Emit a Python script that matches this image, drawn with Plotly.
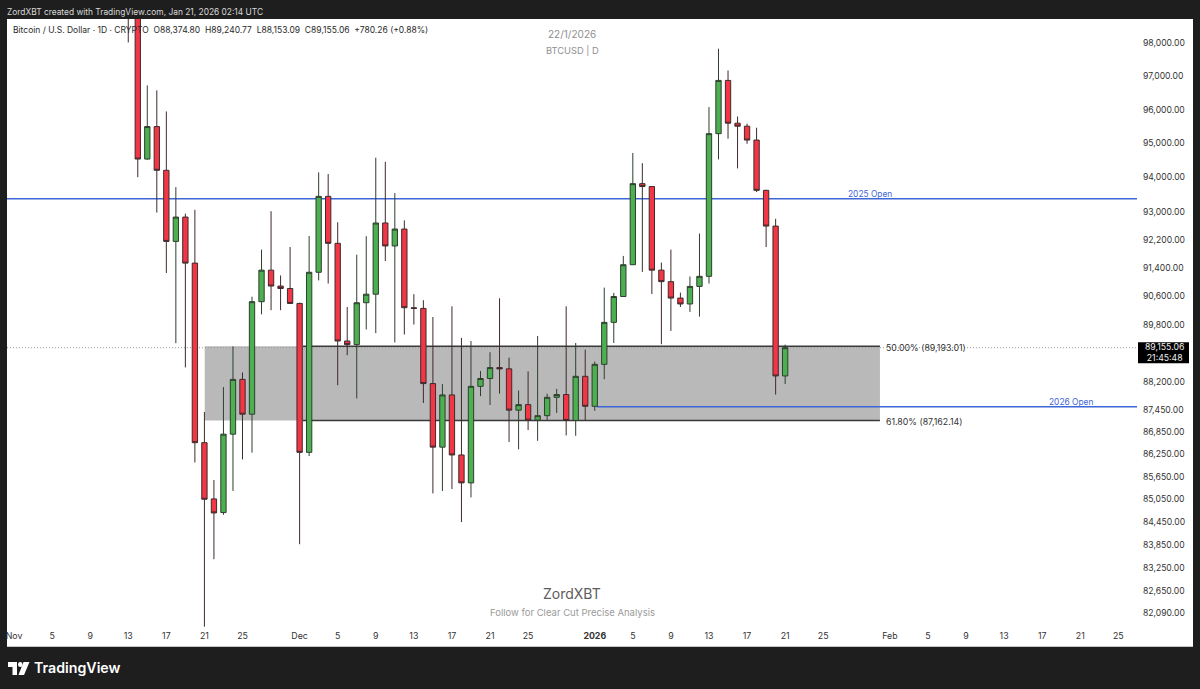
import math
import pandas as pd
import plotly.graph_objects as go

# daily candles, Nov 13 2025 to Jan 21 2026 (first two open above the visible range)
dates = pd.date_range("2025-11-13", "2026-01-21", freq="D")
opens = [103000, 99700, 94540, 95500, 94210, 92150, 92850, 91530, 86560, 85060, 84700, 86790, 88280, 87330, 90440, 91330, 90880, 90810,
         90390, 86300, 91270, 93450, 92095, 89340, 89240, 90410, 90650, 92680, 92020, 92505, 90270, 90250, 88165, 86440, 87855, 86230, 85485, 88090, 88305, 88605, 88570, 87440, 87590, 87170, 87290, 87790, 87865, 87160, 88365,
         87545, 88695, 89860, 90585, 91485, 93820, 93735, 91330, 91005, 90540, 90375, 90870, 91155, 95290, 96880, 95600, 95510, 95100, 93625, 92590, 88374.80]
highs = [104000, 99900, 96730, 96580, 95950, 93720, 92950, 93060, 87390, 85560, 88070, 89190, 88470, 90580, 91915, 93020, 91180, 91990,
         90410, 92304, 94150, 94100, 92700, 90290, 91770, 92300, 94580, 94460, 93545, 92755, 90650, 90480, 90010, 88150, 90310, 89425, 89340, 88510, 89030, 90535, 88880, 87975, 88500, 89480, 87890, 88020, 90310, 89285, 89100,
         88770, 90835, 90685, 91735, 94720, 94420, 93740, 91545, 91915, 90695, 91150, 92375, 96080, 97840, 97180, 95800, 95585, 95465, 93640, 92800, 89240.77]
lows = [98030, 94010, 94520, 92980, 91250, 89280, 88610, 86030, 81746, 83480, 84640, 85270, 86110, 86290, 90085, 90200, 90200, 90380,
        83870, 86200, 91040, 90950, 88120, 88945, 87760, 89660, 89560, 91590, 89300, 89520, 89800, 87635, 85205, 85270, 85320, 84450, 85100, 87820, 87580, 87890, 86580, 86380, 86900, 86610, 87170, 87365, 86755, 86745, 87150,
        87420, 88285, 89285, 90580, 91480, 91280, 90655, 89250, 89620, 90290, 90150, 90020, 90950, 94530, 95140, 94265, 94990, 93575, 91990, 87865, 88153.09]
closes = [99700, 94540, 95500, 94210, 92150, 92850, 91530, 86560, 85050, 84690, 86790, 88280, 87330, 90440, 91330, 90880, 90810, 90390,
          86300, 91270, 93450, 92095, 89340, 89240, 90410, 90650, 92680, 92020, 92505, 90270, 90250, 88165, 86440, 87855, 86230, 85485, 88090, 88305, 88605, 88570, 87440, 87590, 87170, 87290, 87790, 87865, 87160, 88365, 87545,
          88695, 89860, 90585, 91485, 93820, 93735, 91330, 91005, 90540, 90375, 90870, 91155, 95290, 96880, 95600, 95510, 95100, 93625, 92590, 88375, 89155.06]

# price axis
price_ticks = [98000, 97000, 96000, 95000, 94000, 93000, 92200, 91400, 90600, 89800, 88200, 87450, 86850, 86250, 85650, 85050, 84450, 83850, 83250, 82650, 82090]

# time axis
date_ticks = ["2025-11-01", "2025-11-05", "2025-11-09", "2025-11-13", "2025-11-17", "2025-11-21", "2025-11-25",
              "2025-12-01", "2025-12-05", "2025-12-09", "2025-12-13", "2025-12-17", "2025-12-21", "2025-12-25",
              "2026-01-01", "2026-01-05", "2026-01-09", "2026-01-13", "2026-01-17", "2026-01-21", "2026-01-25",
              "2026-02-01", "2026-02-05", "2026-02-09", "2026-02-13", "2026-02-17", "2026-02-21", "2026-02-25"]
date_labels = ["Nov", "5", "9", "13", "17", "21", "25", "Dec", "5", "9", "13", "17", "21", "25",
               "<b>2026</b>", "5", "9", "13", "17", "21", "25", "Feb", "5", "9", "13", "17", "21", "25"]

# levels drawn on the chart
open_2025 = 93380
open_2026 = 87530
fib_50 = 89193.01
fib_618 = 87162.14
last_price = 89155.06

FONT = "Inter"
DARK = "#1e1e1e"
BLUE = "#3f66d6"

# plot area in page pixels, used for everything placed outside the data
L, R, T, B = 7, 1137, 18.5, 629
W, H = 1200, 689


def px(x):
    return (x - L) / (R - L)


def py(y):
    return 1 - (y - T) / (B - T)


def label(x, y, text, size, color, anchor="left", weight=None):
    return dict(xref="paper", yref="paper", x=px(x), y=py(y), text=text, showarrow=False,
                xanchor=anchor, yanchor="middle", font=dict(family=FONT, size=size, color=color, weight=weight))


def level(y, x0, x1, color, width, dash="solid"):
    return dict(type="line", xref="x", yref="y", x0=x0, x1=x1, y0=y, y1=y, layer="below",
                line=dict(color=color, width=width, dash=dash))


def logo_path(points):
    d = "M " + " L ".join(f"{px(x)},{py(y)}" for x, y in points) + " Z"
    return dict(type="path", xref="paper", yref="paper", path=d, fillcolor="white", line_width=0)


fig = go.Figure()

fig.add_trace(go.Candlestick(
    x=dates, open=opens, high=highs, low=lows, close=closes,
    whiskerwidth=0,
    increasing=dict(fillcolor="#4caf50", line=dict(color="#2f3f2f", width=1)),
    decreasing=dict(fillcolor="#f23645", line=dict(color="#3f2a2c", width=1)),
))

x_start = "2025-10-31 06:20"
x_end = "2026-02-26 23:00"

shapes = [
    # white chart panel including both axes
    dict(type="rect", xref="paper", yref="paper", x0=px(7), x1=px(1193), y0=py(18.5), y1=py(646.7),
         fillcolor="white", line_width=0, layer="below"),
    # fib zone
    dict(type="rect", xref="x", yref="y", x0="2025-11-21 00:45", x1="2026-01-30 23:00", y0=fib_618, y1=fib_50,
         fillcolor="#b9b9b9", line_width=0, layer="below"),
    level(fib_50, "2025-12-01 08:30", "2026-01-30 23:00", "#3a3a3a", 1.5),
    level(fib_618, "2025-12-01 08:30", "2026-01-30 23:00", "#3a3a3a", 1.5),
    level(last_price, x_start, x_end, "#9a9a9a", 1, "1px,2px"),
    level(open_2025, x_start, x_end, BLUE, 1.5),
    level(open_2026, "2026-01-01 05:00", x_end, BLUE, 1.5),
    # last price tag
    dict(type="rect", xref="paper", yref="paper", x0=px(1138), x1=px(1189), y0=py(342), y1=py(363),
         fillcolor="black", line_width=0),
    # TradingView mark
    logo_path([(8, 662), (17, 662), (17, 675), (12.5, 675), (12.5, 667), (8, 667)]),
    dict(type="circle", xref="paper", yref="paper", x0=px(18), x1=px(22.5), y0=py(662), y1=py(667),
         fillcolor="white", line_width=0),
    logo_path([(23.5, 662), (29.5, 662), (24, 675), (18.5, 675)]),
]

annotations = [
    label(5, 11, "ZordXBT created with TradingView.com, Jan 21, 2026 02:14 UTC", 8.4, "#d8d8d8"),
    label(11, 30, "Bitcoin / U.S. Dollar · 1D · CRYPTO&nbsp;&nbsp;O88,374.80&nbsp;&nbsp;H89,240.77&nbsp;&nbsp;L88,153.09&nbsp;&nbsp;C89,155.06&nbsp;&nbsp;+780.26 (+0.88%)", 8.5, "#2a2a2a"),
    label(572, 34, "22/1/2026", 10, "#8f8f8f", "center"),
    label(572, 51, "BTCUSD | D", 9.3, "#8f8f8f", "center"),
    label(572, 593, "ZordXBT", 14, "#5c5c5c", "center"),
    label(572, 612, "Follow for Clear Cut Precise Analysis", 9.5, "#9a9a9a", "center"),
    label(870, 194, "2025 Open", 8.4, BLUE, "center"),
    label(1071, 402, "2026 Open", 8.4, BLUE, "center"),
    label(884, 347, "50.00% (89,193.01)", 8.8, "#333333"),
    label(884, 421, "61.80% (87,162.14)", 8.8, "#333333"),
    label(1164, 352.5, "89,155.06<br>21:45:48", 8.7, "#f0f0f0", "center"),
    label(32, 668, "TradingView", 14.2, "white", weight=600),
]

fig.update_layout(
    width=W, height=H,
    margin=dict(l=L, r=W - R, t=T, b=H - B, pad=0, autoexpand=False),
    autosize=False,
    paper_bgcolor=DARK,
    plot_bgcolor="white",
    showlegend=False,
    boxgap=0.2,
    shapes=shapes,
    annotations=annotations,
    font=dict(family=FONT, size=9, color="#333333"),
)
fig.update_xaxes(
    type="date", range=[x_start, x_end], rangeslider_visible=False,
    tickmode="array", tickvals=date_ticks, ticktext=date_labels, tickangle=0,
    ticks="", showgrid=False, zeroline=False, showline=False, tickfont=dict(family=FONT, size=8.8, color="#333333"),
)
fig.update_yaxes(
    type="log", side="right", range=[math.log10(81688), math.log10(98748)],
    tickmode="array", tickvals=price_ticks, ticktext=[f"{v:,.2f}" for v in price_ticks],
    ticks="", showgrid=False, zeroline=False, showline=False, ticklabelstandoff=5,
    tickfont=dict(family=FONT, size=8.6, color="#333333"),
)

fig.write_html("out.html", config=dict(displayModeBar=False),
               post_script="document.body.style.margin='0';document.body.style.background='#1e1e1e';")
